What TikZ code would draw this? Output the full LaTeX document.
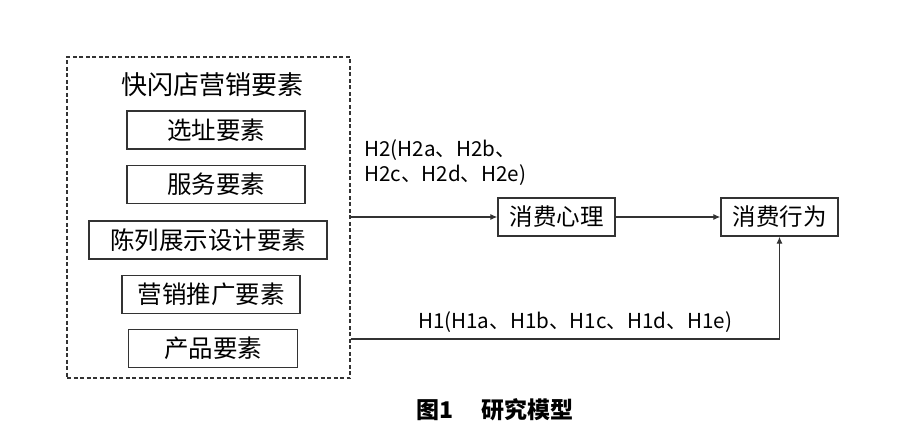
\documentclass[tikz,border=0pt]{standalone}
\usepackage{fontspec}
\setmainfont{Noto Sans CJK SC}
\usetikzlibrary{positioning,arrows.meta}

\begin{document}
\begin{tikzpicture}[x=1pt, y=-1pt,
    fattore/.style={draw=black!80, line width=1.4pt, minimum height=38pt, inner sep=0pt, font=\fontsize{24.5pt}{28pt}\selectfont},
    freccia/.style={draw=black!80, line width=1.1pt, -{Latex[length=7pt,width=6pt]}},
    etichetta/.style={font=\fontsize{20.6pt}{25pt}\selectfont, inner sep=0pt}]
    \useasboundingbox (0,0) rectangle (900,444);

    % gruppo di fattori
    \node[draw=black!80, line width=1.2pt, dash pattern=on 4pt off 2.5pt, minimum width=283pt, minimum height=321pt] (gruppo) at (208.5,217.5) {};
    \node[font=\fontsize{26pt}{30pt}\selectfont] (titolo) at (212,85) {快闪店营销要素};
    \node[fattore, minimum width=178pt] (sito) at (216,130) {选址要素};
    \node[fattore, minimum width=178pt, below=15pt of sito] (servizio) {服务要素};
    \node[fattore, minimum width=238pt, below=16pt of servizio, xshift=-8pt] (vetrina) {陈列展示设计要素};
    \node[fattore, minimum width=178pt, below=15pt of vetrina, xshift=3pt] (promo) {营销推广要素};
    \node[fattore, minimum width=169pt, below=15pt of promo, xshift=2pt] (prodotto) {产品要素};

    \node[fattore, font=\fontsize{23.5pt}{28pt}\selectfont, minimum width=117pt] (psiche) at (556.5,217) {消费心理};
    \node[fattore, font=\fontsize{23.5pt}{28pt}\selectfont, minimum width=117pt] (condotta) at (779.5,217) {消费行为};

    \node[etichetta, align=left, anchor=north west] (ipotesiH2) at (364,139) {H2(H2a、H2b、\\H2c、H2d、H2e)};
    \node[etichetta, anchor=south] (ipotesiH1) at (575,333) {H1(H1a、H1b、H1c、H1d、H1e)};

    \coordinate (angolo) at (779.5,339);
    \draw[freccia] (gruppo.east |- psiche.west) -- (psiche.west);
    \draw[freccia] (psiche) -- (condotta);
    \draw[freccia] (gruppo.east |- angolo) -- (angolo) -- (condotta.south);

    \node[font=\bfseries\fontsize{23pt}{27pt}\selectfont] (didascalia) at (495,410) {图1\hspace{29pt}研究模型};
\end{tikzpicture}
\end{document}
